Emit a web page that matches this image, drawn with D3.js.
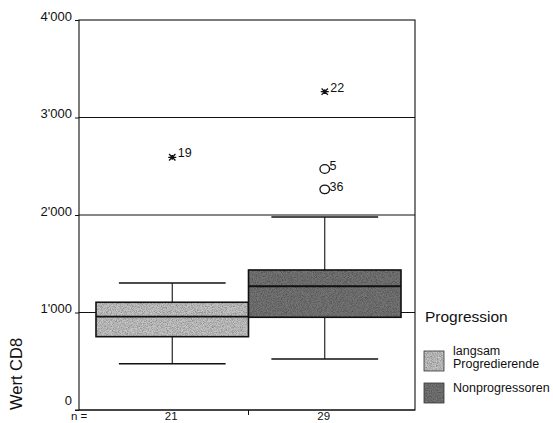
<!DOCTYPE html>
<html><head><meta charset="utf-8">
<script src="https://cdn.jsdelivr.net/npm/d3@7"></script>
<style>html,body{margin:0;padding:0;background:#fff;}svg{display:block;font-family:Arial,"Liberation Sans",sans-serif;}</style>
</head><body>
<script>
// ---- data ----
const groups = ["langsam Progredierende", "Nonprogressoren"];
const legendLines = [["langsam", "Progredierende"], ["Nonprogressoren"]];
const counts = [21, 29];
const whiskerLow = [475, 523];
const q1 = [752, 951];
const median = [957, 1269];
const q3 = [1105, 1436];
const whiskerHigh = [1302, 1980];
const outlierGroup = [0, 1, 1, 1];
const outlierValue = [2592, 3265, 2472, 2263];
const outlierLabel = ["19", "22", "5", "36"];
const outlierType = ["extreme", "extreme", "outlier", "outlier"];
const yTicks = [0, 1000, 2000, 3000, 4000];
const yTickLabels = ["0", "1'000", "2'000", "3'000", "4'000"];
const fills = ["#c6c6c6", "#767676"];

const W = 553, H = 423;
const frame = {left: 79, right: 415, top: 20, bottom: 410};

const svg = d3.select("body").append("svg").attr("width", W).attr("height", H);

const defs = svg.append("defs");
const f = defs.append("filter").attr("id", "grain").attr("x", 0).attr("y", 0).attr("width", 1).attr("height", 1);
f.append("feTurbulence").attr("type", "fractalNoise").attr("baseFrequency", 1.2).attr("numOctaves", 1).attr("seed", 3).attr("result", "noise");
f.append("feColorMatrix").attr("in", "noise").attr("type", "matrix")
  .attr("values", "0 0 0 0 0  0 0 0 0 0  0 0 0 0 0  0 0 0 1.3 -0.45").attr("result", "dots");
f.append("feComposite").attr("in", "dots").attr("in2", "SourceGraphic").attr("operator", "atop");

const y = d3.scaleLinear().domain([0, 4000]).range([frame.bottom, frame.top]);
const x = d3.scaleBand().domain(groups).range([96, 401]).padding(0);
const bw = x.bandwidth();

// gridlines
svg.append("g").selectAll("line").data(yTicks.filter(d => d > 0 && d < 4000)).join("line")
  .attr("x1", frame.left).attr("x2", frame.right)
  .attr("y1", d => y(d)).attr("y2", d => y(d))
  .attr("stroke", "#111").attr("stroke-width", 1.1);

// frame
svg.append("rect").attr("x", frame.left).attr("y", frame.top)
  .attr("width", frame.right - frame.left).attr("height", frame.bottom - frame.top)
  .attr("fill", "none").attr("stroke", "#111").attr("stroke-width", 1.1);

// y axis
const yAxis = d3.axisLeft(y).tickValues(yTicks).tickFormat((d, i) => yTickLabels[i]).tickSize(4).tickPadding(3);
const ya = svg.append("g").attr("transform", `translate(${frame.left},0)`).call(yAxis);
ya.select(".domain").remove();
ya.selectAll(".tick line").attr("stroke", "#111");
ya.selectAll(".tick text").attr("font-size", 13).attr("fill", "#111")
  .attr("font-family", "Arial, 'Liberation Sans', sans-serif")
  .attr("dy", (d) => d === 0 ? "-0.45em" : "0.02em");

// x axis line extending slightly left
svg.append("line").attr("x1", frame.left - 4).attr("x2", frame.right)
  .attr("y1", frame.bottom).attr("y2", frame.bottom).attr("stroke", "#111").attr("stroke-width", 1.1);
// x tick between categories
svg.append("g").selectAll("line").data(groups.slice(1)).join("line")
  .attr("x1", d => x(d)).attr("x2", d => x(d))
  .attr("y1", frame.bottom).attr("y2", frame.bottom + 5).attr("stroke", "#111");

// boxes
const gb = svg.append("g");
groups.forEach((g, i) => {
  const cx = x(g) + bw / 2;
  const capW = bw * 0.7;
  gb.append("line").attr("x1", cx).attr("x2", cx).attr("y1", y(whiskerHigh[i])).attr("y2", y(q3[i])).attr("stroke", "#111").attr("stroke-width", 1.1);
  gb.append("line").attr("x1", cx).attr("x2", cx).attr("y1", y(q1[i])).attr("y2", y(whiskerLow[i])).attr("stroke", "#111").attr("stroke-width", 1.1);
  [whiskerHigh[i], whiskerLow[i]].forEach(v => {
    gb.append("line").attr("x1", cx - capW / 2).attr("x2", cx + capW / 2).attr("y1", y(v)).attr("y2", y(v))
      .attr("stroke", "#111").attr("stroke-width", 1.6);
  });
  gb.append("rect").attr("x", x(g)).attr("y", y(q3[i])).attr("width", bw).attr("height", y(q1[i]) - y(q3[i]))
    .attr("fill", fills[i]).attr("filter", "url(#grain)");
  gb.append("rect").attr("x", x(g)).attr("y", y(q3[i])).attr("width", bw).attr("height", y(q1[i]) - y(q3[i]))
    .attr("fill", "none").attr("stroke", "#111").attr("stroke-width", 1.6);
  gb.append("line").attr("x1", x(g)).attr("x2", x(g) + bw).attr("y1", y(median[i])).attr("y2", y(median[i]))
    .attr("stroke", "#111").attr("stroke-width", 1.8);
});

// outliers
const go = svg.append("g");
outlierValue.forEach((v, i) => {
  const cx = x(groups[outlierGroup[i]]) + bw / 2;
  const cy = y(v);
  if (outlierType[i] === "extreme") {
    const r = 4;
    const p = d3.path();
    p.moveTo(cx - r, cy); p.lineTo(cx + r, cy);
    p.moveTo(cx - r * 0.8, cy - r * 0.8); p.lineTo(cx + r * 0.8, cy + r * 0.8);
    p.moveTo(cx - r * 0.8, cy + r * 0.8); p.lineTo(cx + r * 0.8, cy - r * 0.8);
    p.moveTo(cx, cy - r * 0.6); p.lineTo(cx, cy + r * 0.6);
    go.append("path").attr("d", p.toString()).attr("stroke", "#111").attr("stroke-width", 1.3).attr("fill", "none");
    go.append("text").attr("x", cx + 5.5).attr("y", cy).attr("font-size", 12.5).attr("fill", "#111").text(outlierLabel[i]);
  } else {
    go.append("ellipse").attr("cx", cx).attr("cy", cy).attr("rx", 4.8).attr("ry", 4.3)
      .attr("fill", "none").attr("stroke", "#111").attr("stroke-width", 1.3);
    go.append("text").attr("x", cx + 4.8).attr("y", cy + 1.5).attr("font-size", 12.5).attr("fill", "#111").text(outlierLabel[i]);
  }
});

// n labels
svg.append("text").attr("x", 71).attr("y", 419.5).attr("font-size", 11.5).attr("fill", "#111").text("n =");
svg.append("g").selectAll("text").data(groups).join("text")
  .attr("x", d => x(d) + bw / 2 - 1).attr("y", 419.5).attr("text-anchor", "middle")
  .attr("font-size", 11.5).attr("fill", "#111").text((d, i) => counts[i]);

// y title
svg.append("text").attr("transform", `translate(22,${frame.bottom}) rotate(-90)`)
  .attr("font-size", 16.5).attr("fill", "#111").text("Wert CD8");

// legend
svg.append("text").attr("x", 425).attr("y", 322).attr("font-size", 15.5).attr("fill", "#111").text("Progression");
const swY = [351, 383];
groups.forEach((g, i) => {
  svg.append("rect").attr("x", 424).attr("y", swY[i]).attr("width", 20).attr("height", 20)
    .attr("fill", fills[i]).attr("filter", "url(#grain)");
  svg.append("rect").attr("x", 424).attr("y", swY[i]).attr("width", 20).attr("height", 20)
    .attr("fill", "none").attr("stroke", "#333").attr("stroke-width", 0.8);
  const t = svg.append("text").attr("font-size", 12.5).attr("fill", "#111");
  legendLines[i].forEach((line, j) => {
    t.append("tspan").attr("x", 453).attr("y", (i === 0 ? 355 : 392) + j * 13).text(line);
  });
});
</script>
</body></html>
